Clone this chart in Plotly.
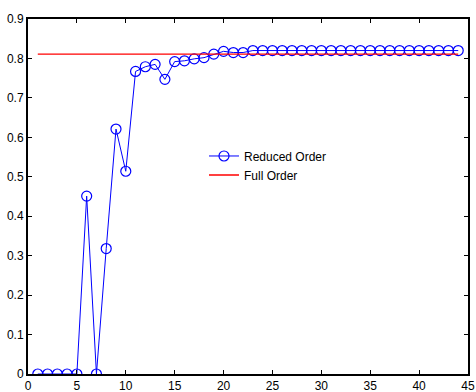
import plotly.graph_objects as go

x_reduced = list(range(1, 45))
y_reduced = [0, 0, 0, 0, 0, 0.451, 0, 0.318, 0.621, 0.514,
             0.767, 0.779, 0.785, 0.747, 0.792, 0.794, 0.799, 0.802, 0.811, 0.818,
             0.815, 0.815] + [0.82] * 22
x_full = [1, 44]
y_full = [0.811, 0.811]

x_ticks = [0, 5, 10, 15, 20, 25, 30, 35, 40, 45]
y_ticks = [0, 0.1, 0.2, 0.3, 0.4, 0.5, 0.6, 0.7, 0.8, 0.9]
y_tick_text = ["0", "0.1", "0.2", "0.3", "0.4", "0.5", "0.6", "0.7", "0.8", "0.9"]

font_family = "Liberation Sans Narrow, Arial Narrow, Liberation Sans, Arial"

fig = go.Figure()
fig.add_trace(go.Scatter(
    x=x_reduced, y=y_reduced, mode="lines+markers", name="Reduced Order",
    line=dict(color="#0000ff", width=1),
    marker=dict(symbol="circle-open", size=10, color="#0000ff", line=dict(width=1.2)),
))
fig.add_trace(go.Scatter(
    x=x_full, y=y_full, mode="lines", name="Full Order",
    line=dict(color="#ff0000", width=1.3),
))

axis_common = dict(
    showgrid=False, zeroline=False, showline=True, linecolor="black", linewidth=2,
    mirror="ticks", ticks="inside", ticklen=4, tickcolor="black", tickwidth=1,
    tickfont=dict(family=font_family, size=12, color="black"),
    ticklabeloverflow="allow",
)
fig.update_xaxes(range=[0, 45], tickvals=x_ticks, ticktext=[str(t) for t in x_ticks],
                 ticklabelstandoff=0, **axis_common)
fig.update_yaxes(range=[0, 0.9], tickvals=y_ticks, ticktext=y_tick_text, **axis_common)

fig.update_layout(
    width=476, height=392,
    margin=dict(l=28, r=8, t=19, b=18, autoexpand=False),
    plot_bgcolor="white", paper_bgcolor="white",
    showlegend=True,
    legend=dict(x=0.40, y=0.655, xanchor="left", yanchor="top",
                bgcolor="rgba(255,255,255,0)", borderwidth=0,
                font=dict(family=font_family, size=12, color="black"),
                tracegroupgap=2, itemwidth=30),
)

fig.write_html("out.html")
